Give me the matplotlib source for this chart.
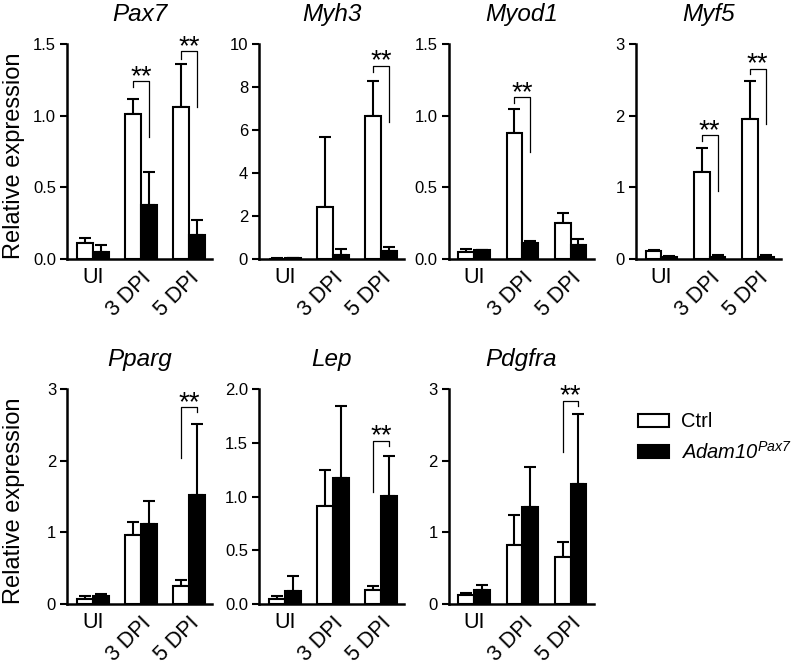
import matplotlib.pyplot as plt
import matplotlib.patches as mpatches
import numpy as np

plt.rcParams['font.family'] = ['Liberation Sans', 'DejaVu Sans']
plt.rcParams['mathtext.fontset'] = 'custom'
# the only math text is the italic legend label
plt.rcParams['mathtext.rm'] = 'Liberation Sans:italic'
plt.rcParams['mathtext.it'] = 'Liberation Sans:italic'

groups = ['UI', '3 DPI', '5 DPI']
genes = ['Pax7', 'Myh3', 'Myod1', 'Myf5', 'Pparg', 'Lep', 'Pdgfra']

# means / upper error (SEM)
ctrl_mean = [[0.114, 1.01, 1.06],
             [0.02, 2.4, 6.68],
             [0.05, 0.877, 0.25],
             [0.107, 1.22, 1.96],
             [0.075, 0.97, 0.257],
             [0.047, 0.91, 0.13],
             [0.12, 0.83, 0.66]]
ctrl_err = [[0.036, 0.11, 0.30],
            [0.01, 3.3, 1.62],
            [0.022, 0.17, 0.074],
            [0.025, 0.325, 0.52],
            [0.032, 0.18, 0.073],
            [0.031, 0.334, 0.04],
            [0.04, 0.41, 0.20]]
ko_mean = [[0.05, 0.38, 0.17],
           [0.03, 0.19, 0.39],
           [0.06, 0.11, 0.10],
           [0.028, 0.033, 0.033],
           [0.107, 1.12, 1.52],
           [0.124, 1.176, 1.01],
           [0.19, 1.36, 1.675]]
ko_err = [[0.05, 0.23, 0.10],
          [0.01, 0.26, 0.17],
          [0.005, 0.018, 0.04],
          [0.009, 0.017, 0.022],
          [0.033, 0.32, 0.99],
          [0.136, 0.669, 0.368],
          [0.07, 0.55, 0.975]]

yticks = [[0.0, 0.5, 1.0, 1.5],
          [0, 2, 4, 6, 8, 10],
          [0.0, 0.5, 1.0, 1.5],
          [0, 1, 2, 3],
          [0, 1, 2, 3],
          [0.0, 0.5, 1.0, 1.5, 2.0],
          [0, 1, 2, 3]]
tick_fmt = ['%.1f', '%d', '%.1f', '%d', '%d', '%.1f', '%d']

# significance brackets: (group, top, left leg end, right leg end)
sig = [[(1, 1.24, 1.20, 0.85), (2, 1.45, 1.40, 1.06)],
       [(2, 9.0, 8.7, 6.4)],
       [(1, 1.13, 1.09, 0.744)],
       [(1, 1.73, 1.65, 0.95), (2, 2.66, 2.58, 1.88)],
       [(2, 2.75, 2.04, 2.68)],
       [(2, 1.52, 1.045, 1.47)],
       [(2, 2.84, 2.12, 2.76)]]

fig = plt.figure(figsize=(8, 6.65), dpi=100)

lefts = [0.084, 0.324, 0.561, 0.795]
bottoms = [0.6105, 0.0917]
w, h = 0.181, 0.323

x = np.arange(len(groups))
bw = 0.33

for i, gene in enumerate(genes):
    row, col = divmod(i, 4)
    ax = fig.add_axes([lefts[col], bottoms[row], w, h])

    zeros = np.zeros(3)
    ax.errorbar(x - bw / 2, ctrl_mean[i], yerr=[zeros, ctrl_err[i]], fmt='none',
                ecolor='black', elinewidth=1.5, capsize=4, capthick=1.5, zorder=1)
    ax.errorbar(x + bw / 2, ko_mean[i], yerr=[zeros, ko_err[i]], fmt='none',
                ecolor='black', elinewidth=1.5, capsize=4, capthick=1.5, zorder=1)
    ax.bar(x - bw / 2, ctrl_mean[i], bw, color='white', edgecolor='black',
           linewidth=1.5, zorder=2)
    ax.bar(x + bw / 2, ko_mean[i], bw, color='black', edgecolor='black',
           linewidth=1.5, zorder=2)

    for g, top, lb, rb in sig[i]:
        xl, xr = g - bw / 2, g + bw / 2
        ax.plot([xl, xl, xr, xr], [lb, top, top, rb], color='black', lw=0.9,
                zorder=3, clip_on=False)
        ax.annotate('**', xy=(g, top), xytext=(0, -2), textcoords='offset points',
                    ha='center', va='baseline', fontsize=20, annotation_clip=False)

    ax.set_xlim(-0.53, 2.48)
    ax.set_ylim(0, yticks[i][-1])
    ax.set_yticks(yticks[i])
    ax.set_yticklabels([tick_fmt[i] % t for t in yticks[i]], fontsize=12)
    ax.set_xticks(x)
    labels = ax.set_xticklabels(groups, fontsize=15.5)
    for lab in labels[1:]:
        lab.set_rotation(45)
        lab.set_ha('right')
        lab.set_va('top')
        lab.set_rotation_mode('anchor')
    ax.tick_params(axis='x', length=0, pad=6)
    ax.tick_params(axis='y', length=5, width=1.5, pad=3)
    for s in ['top', 'right']:
        ax.spines[s].set_visible(False)
    for s in ['left', 'bottom']:
        ax.spines[s].set_linewidth(1.8)
    ax.set_title(gene, fontsize=17.5, style='italic', pad=17)
    if col == 0:
        ax.set_ylabel('Relative expression', fontsize=17)
        ax.yaxis.set_label_coords(-0.29, 0.48)

handles = [mpatches.Patch(facecolor='white', edgecolor='black', linewidth=1.5),
           mpatches.Patch(facecolor='black', edgecolor='black', linewidth=1.5)]
fig.legend(handles, ['Ctrl', r'$\mathrm{Adam10}^{\mathrm{Pax7}}$'],
           loc='upper left', bbox_to_anchor=(0.788, 0.392), frameon=False,
           fontsize=14.5, handlelength=1.5, handleheight=0.6, handletextpad=0.6,
           labelspacing=0.45, borderaxespad=0)

fig.savefig('out.png', dpi=100)
